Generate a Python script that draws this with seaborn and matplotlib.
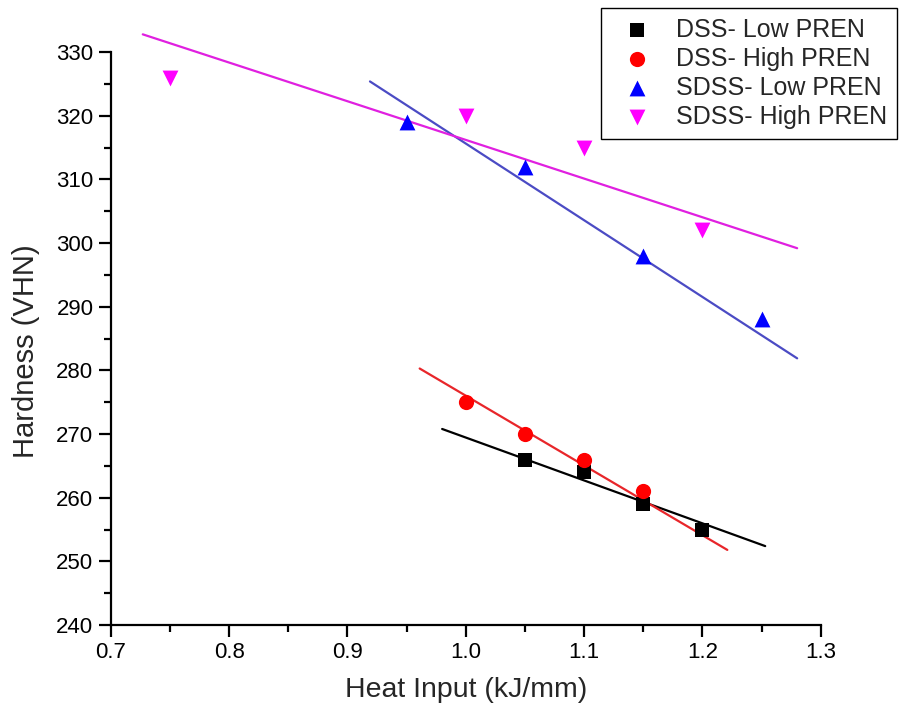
import matplotlib
matplotlib.use("Agg")
import matplotlib.pyplot as plt
import numpy as np
import pandas as pd
import seaborn as sns
from matplotlib.ticker import MultipleLocator, FixedLocator

# measured points (heat input kJ/mm, hardness VHN)
dss_low_x = [1.05, 1.10, 1.15, 1.20]
dss_low_y = [266, 264, 259, 255]
dss_high_x = [1.00, 1.05, 1.10, 1.15]
dss_high_y = [275, 270, 266, 261]
sdss_low_x = [0.95, 1.05, 1.15, 1.25]
sdss_low_y = [319, 312, 298, 288]
sdss_high_x = [0.75, 1.00, 1.10, 1.20]
sdss_high_y = [326, 320, 315, 302]

# linear fit lines as drawn in the figure (start, end)
dss_low_fit_x = [0.98, 1.253]
dss_low_fit_y = [270.8, 252.4]
dss_high_fit_x = [0.961, 1.221]
dss_high_fit_y = [280.3, 251.8]
sdss_low_fit_x = [0.919, 1.280]
sdss_low_fit_y = [325.4, 281.9]
sdss_high_fit_x = [0.727, 1.280]
sdss_high_fit_y = [332.8, 299.2]

labels = ["DSS- Low PREN", "DSS- High PREN", "SDSS- Low PREN", "SDSS- High PREN"]

sns.set_style("ticks")
plt.rcParams["font.family"] = ["Liberation Sans", "DejaVu Sans"]

fig = plt.figure(figsize=(9.01, 7.13), dpi=100)
ax = fig.add_axes([0.123, 0.1234, 0.788, 0.857])

series = [
    (dss_low_x, dss_low_y, dss_low_fit_x, dss_low_fit_y, "black", "black", "s", 95),
    (dss_high_x, dss_high_y, dss_high_fit_x, dss_high_fit_y, "#ff0000", "#e8262a", "o", 120),
    (sdss_low_x, sdss_low_y, sdss_low_fit_x, sdss_low_fit_y, "#0000ff", "#4b4bc4", "^", 130),
    (sdss_high_x, sdss_high_y, sdss_high_fit_x, sdss_high_fit_y, "#ff00ff", "#e020e0", "v", 130),
]

for (x, y, fx, fy, mc, lc, mk, sz), lab in zip(series, labels):
    sns.lineplot(x=fx, y=fy, color=lc, linewidth=1.6, ax=ax, legend=False)
    sns.scatterplot(x=x, y=y, color=mc, marker=mk, s=sz, linewidth=0,
                    label=lab, ax=ax, zorder=3)

ax.set_xlim(0.7, 1.3)
ax.set_ylim(240, 336)
ax.set_yticks(np.arange(240, 331, 10))
ax.set_xticks(np.arange(0.7, 1.31, 0.1))
ax.xaxis.set_minor_locator(MultipleLocator(0.05))
ax.yaxis.set_minor_locator(FixedLocator(np.arange(245, 330, 10)))
sns.despine(ax=ax)
ax.spines["left"].set_bounds(240, 330)
for s in ["left", "bottom"]:
    ax.spines[s].set_linewidth(1.6)
    ax.spines[s].set_color("black")
ax.tick_params(which="major", direction="out", length=8.5, width=1.6,
               labelsize=16, colors="black", pad=4)
ax.tick_params(which="minor", direction="out", length=5, width=1.6, colors="black")
ax.set_xlabel("Heat Input (kJ/mm)", fontsize=20.5, labelpad=10)
ax.set_ylabel("Hardness (VHN)", fontsize=21)
ax.yaxis.set_label_coords(-0.100, 0.448)

leg = ax.legend(loc="upper right", bbox_to_anchor=(0.9956, 0.989),
                bbox_transform=fig.transFigure, fontsize=18, frameon=True,
                fancybox=False, edgecolor="black", framealpha=1,
                handletextpad=0.5, labelspacing=0.2, borderpad=0.4,
                handlelength=2.1, borderaxespad=0)
leg.get_frame().set_linewidth(1.0)

fig.savefig("out.png", dpi=100)
